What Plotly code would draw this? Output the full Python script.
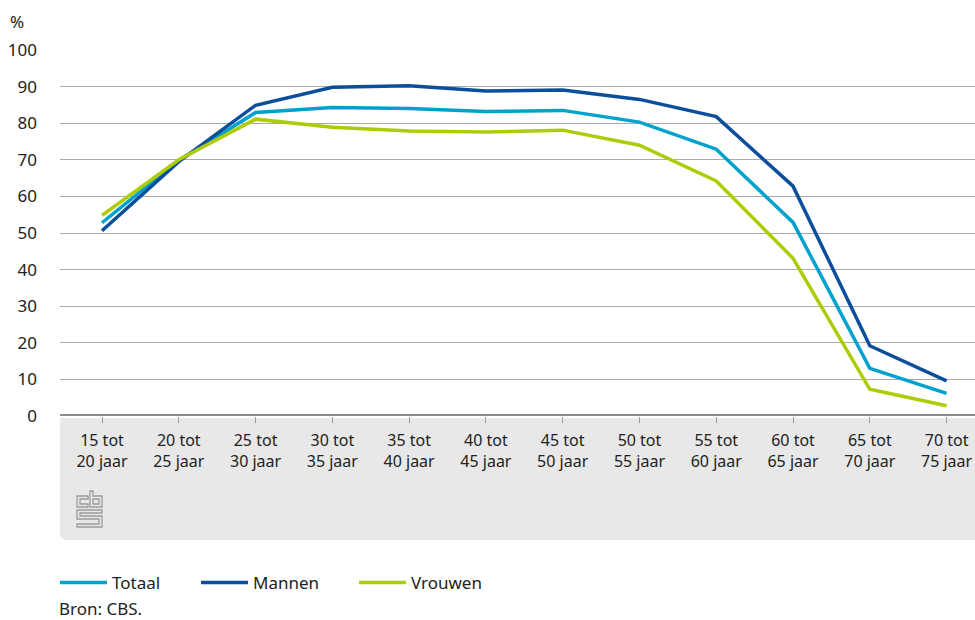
import plotly.graph_objects as go

categories = ["15 tot<br>20 jaar", "20 tot<br>25 jaar", "25 tot<br>30 jaar", "30 tot<br>35 jaar",
              "35 tot<br>40 jaar", "40 tot<br>45 jaar", "45 tot<br>50 jaar", "50 tot<br>55 jaar",
              "55 tot<br>60 jaar", "60 tot<br>65 jaar", "65 tot<br>70 jaar", "70 tot<br>75 jaar"]
totaal = [52.8, 69.8, 82.9, 84.3, 84.0, 83.2, 83.5, 80.3, 72.9, 52.9, 13.0, 6.2]
mannen = [50.6, 69.5, 84.9, 89.8, 90.2, 88.8, 89.1, 86.5, 81.8, 62.8, 19.2, 9.6]
vrouwen = [54.8, 70.0, 81.1, 78.9, 77.9, 77.6, 78.1, 74.0, 64.2, 43.1, 7.3, 2.8]
y_ticks = [0, 10, 20, 30, 40, 50, 60, 70, 80, 90, 100]

W, H = 975, 620
L, R, T, B = 60, 0, 50, 204
FONT = "Noto Sans"
FS = 17
TXT = "#222222"

def px(x):
    return (x - L) / (W - L - R)

def py(y):
    return (H - B - y) / (H - T - B)

def path_px(cmds):
    # cmds: list of (letter, x, y) in page pixels -> paper path
    out = []
    for c, x, y in cmds:
        if c == "Z":
            out.append("Z")
        else:
            out.append(f"{c}{px(x):.5f},{py(y):.5f}")
    return " ".join(out)

fig = go.Figure()
series = [("Totaal", totaal, "#00a1cd", "legend", 60),
          ("Mannen", mannen, "#0b4e9c", "legend2", 201),
          ("Vrouwen", vrouwen, "#afcb05", "legend3", 359)]
legends = {}
for name, vals, col, leg, lx in series:
    fig.add_trace(go.Scatter(x=list(range(len(categories))), y=vals, mode="lines", name=name,
                             line=dict(color=col, width=3.5), legend=leg))
    # one legend per series so each entry sits where the reference has it
    legends[leg] = dict(orientation="h", x=px(lx - 5), xanchor="left", y=py(565), yanchor="top",
                        font=dict(size=FS, color=TXT), bgcolor="rgba(0,0,0,0)", itemwidth=47)

# grey band below the x axis, rounded bottom-left corner
r = 7
band = (f"M{px(60):.5f},{py(418):.5f} L{px(975):.5f},{py(418):.5f} L{px(975):.5f},{py(540):.5f} "
        f"L{px(60 + r):.5f},{py(540):.5f} Q{px(60):.5f},{py(540):.5f} {px(60):.5f},{py(540 - r):.5f} Z")
shapes = [dict(type="path", xref="paper", yref="paper", path=band, fillcolor="#e8e8e8",
               line=dict(width=0), layer="below")]

# zero line
shapes.append(dict(type="line", xref="paper", yref="y", x0=0, x1=1, y0=0, y1=0,
                   line=dict(color="#8c8c8c", width=4)))

# CBS logo
logo_c = [("M", 88, 496), ("L", 77, 496), ("L", 77, 507), ("L", 88, 507), ("L", 88, 504),
          ("L", 80, 504), ("L", 80, 499), ("L", 88, 499), ("Z", 0, 0)]
logo_b = [("M", 90, 491), ("L", 93, 491), ("L", 93, 496), ("L", 102, 496), ("L", 102, 507),
          ("L", 90, 507), ("Z", 0, 0), ("M", 93, 499), ("L", 99, 499), ("L", 99, 504),
          ("L", 93, 504), ("Z", 0, 0)]
logo_s = [("M", 102, 510), ("L", 77, 510), ("L", 77, 519), ("L", 99, 519), ("L", 99, 524),
          ("L", 77, 524), ("L", 77, 527), ("L", 102, 527), ("L", 102, 516), ("L", 80, 516),
          ("L", 80, 513), ("L", 102, 513), ("Z", 0, 0)]
for part in (logo_c, logo_b, logo_s):
    shapes.append(dict(type="path", xref="paper", yref="paper", path=path_px(part),
                       line=dict(color="#9a9a9a", width=1.3)))

fig.update_layout(
    width=W, height=H,
    margin=dict(l=L, r=R, t=T, b=B, autoexpand=False),
    paper_bgcolor="white", plot_bgcolor="white",
    font=dict(family=FONT, size=FS, color=TXT),
    showlegend=True,
    **legends,
    shapes=shapes,
    xaxis=dict(range=[-0.547, 11.37], tickmode="array", tickvals=list(range(len(categories))),
               ticktext=categories, showgrid=False, zeroline=False, showline=False,
               ticks="outside", ticklen=6, tickwidth=1.3, tickcolor="#9a9a9a", ticklabelstandoff=4,
               tickfont=dict(size=16, color=TXT), automargin=False, fixedrange=True),
    yaxis=dict(range=[0, 100], tickvals=y_ticks, showgrid=True, gridcolor="#ababab", gridwidth=1,
               zeroline=False, showline=False, ticks="", ticklabelstandoff=22,
               tickfont=dict(size=FS, color=TXT), automargin=False, fixedrange=True),
    annotations=[
        dict(text="%", xref="paper", yref="paper", x=px(8), y=py(21), xanchor="left", yanchor="middle",
             showarrow=False, font=dict(size=FS, color=TXT)),
        dict(text="Bron: CBS.", xref="paper", yref="paper", x=px(57), y=py(608), xanchor="left",
             yanchor="middle", showarrow=False, font=dict(size=FS, color=TXT)),
    ],
)

fig.write_html("out.html", config=dict(displayModeBar=False),
               post_script="document.body.style.margin='0px';")
